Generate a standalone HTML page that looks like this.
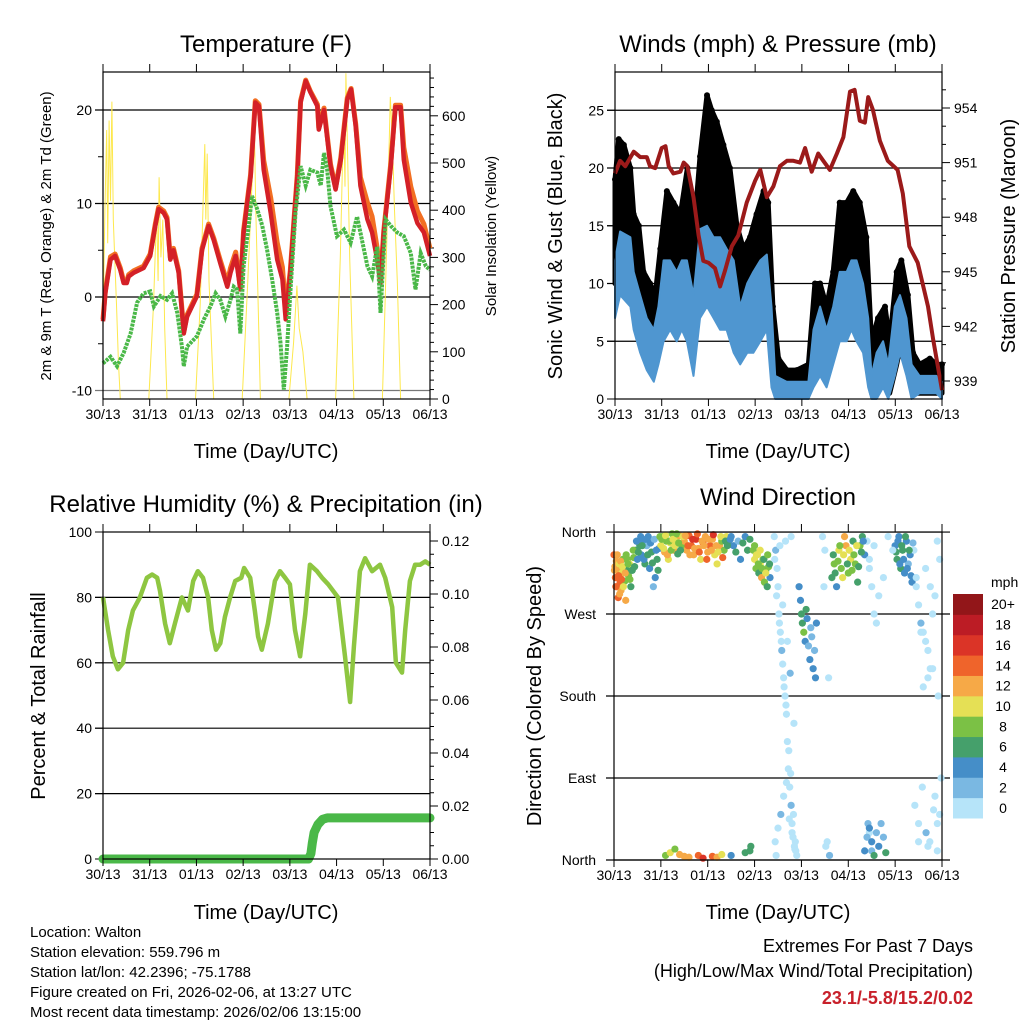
<!DOCTYPE html>
<html><head><meta charset="utf-8"><style>
html,body{margin:0;padding:0;background:#fff;}
svg{display:block;font-family:"Liberation Sans",Arial,sans-serif;}
</style></head><body>
<svg id="chart" width="1024" height="1024" viewBox="0 0 1024 1024" xmlns="http://www.w3.org/2000/svg">
<rect width="1024" height="1024" fill="#fff"/>
<g id="p1"></g>
<g id="p2"></g>
<g id="p3"></g>
<g id="p4"></g>
<g font-size="24" text-anchor="middle" fill="#000">
<text x="266" y="52">Temperature (F)</text>
<text x="778" y="52">Winds (mph) &amp; Pressure (mb)</text>
<text x="266" y="512">Relative Humidity (%) &amp; Precipitation (in)</text>
<text x="778" y="505">Wind Direction</text>
</g>
<g fill="#000" text-anchor="middle">
<text x="266" y="458" font-size="20">Time (Day/UTC)</text>
<text x="778" y="458" font-size="20">Time (Day/UTC)</text>
<text x="266" y="919" font-size="20">Time (Day/UTC)</text>
<text x="778" y="919" font-size="20">Time (Day/UTC)</text>
<text transform="translate(51,236) rotate(-90)" font-size="15">2m &amp; 9m T (Red, Orange) &amp; 2m Td (Green)</text>
<text transform="translate(496,236) rotate(-90)" font-size="15">Solar Insolation (Yellow)</text>
<text transform="translate(562,236) rotate(-90)" font-size="20">Sonic Wind &amp; Gust (Blue, Black)</text>
<text transform="translate(1015,236) rotate(-90)" font-size="20">Station Pressure (Maroon)</text>
<text transform="translate(45,696) rotate(-90)" font-size="20">Percent &amp; Total Rainfall</text>
<text transform="translate(541,696) rotate(-90)" font-size="20">Direction (Colored By Speed)</text>
</g>
<g font-size="15" fill="#000">
<text x="30" y="937">Location: Walton</text>
<text x="30" y="957">Station elevation: 559.796 m</text>
<text x="30" y="977">Station lat/lon: 42.2396; -75.1788</text>
<text x="30" y="997">Figure created on Fri, 2026-02-06, at 13:27 UTC</text>
<text x="30" y="1017">Most recent data timestamp: 2026/02/06 13:15:00</text>
</g>
<g text-anchor="end" font-size="18">
<text x="973" y="952">Extremes For Past 7 Days</text>
<text x="973" y="977">(High/Low/Max Wind/Total Precipitation)</text>
<text x="973" y="1004" fill="#c8202a" font-weight="bold">23.1/-5.8/15.2/0.02</text>
</g>
</svg>
<script>
const dayLabels=["30/13","31/13","01/13","02/13","03/13","04/13","05/13","06/13"];
// Temperature (days, F)
const tTime=[0,0.05,0.16,0.26,0.37,0.44,0.51,0.55,0.66,0.87,1.01,1.12,1.19,1.30,1.37,1.44,1.51,1.62,1.73,1.80,2.01,2.12,2.26,2.37,2.51,2.66,2.73,2.84,2.94,3.01,3.16,3.26,3.34,3.44,3.59,3.73,3.84,3.91,4.01,4.16,4.23,4.34,4.44,4.59,4.62,4.73,4.87,4.98,5.09,5.23,5.31,5.41,5.51,5.66,5.76,5.87,5.94,6.01,6.16,6.26,6.37,6.44,6.59,6.73,6.87,7.0];
const temp2m=[-2.6,0.4,4,4.4,2.9,1.5,1.5,2.2,2.6,3.1,4.4,7.6,9.4,9,8.3,4,5,2.6,-3.9,-2.1,0.1,5,7.6,6.1,3.6,1.1,2.6,4.4,0.8,6.9,12.9,20.8,20.4,13.6,9,4,1.9,-2.4,2.6,12.9,20.8,23.1,21.9,20.4,17.9,20,14,11.5,14.7,21.1,22.2,18.3,11.9,8.3,6.9,4,1.5,6.9,14,20.3,20.3,14.7,10.1,7.9,6.9,4.4];
const temp9m=[-2.4,0.6,4.3,4.6,3.1,1.7,1.7,2.4,2.8,3.3,4.6,7.8,9.6,9.2,8.5,4.2,5.2,2.8,-3.7,-1.9,0.3,5.2,7.8,6.3,3.9,1.5,3.1,4.8,1.0,7.1,13.1,21.0,20.6,14.6,10.6,5.8,3.2,-1.4,2.8,13.1,21.0,23.2,22.0,20.6,18.1,20.2,14.2,11.7,14.9,21.3,22.3,18.5,12.8,10.1,8.6,5.2,1.7,7.1,14.3,20.5,20.5,16.0,11.8,9.2,7.8,5.2];
const tdTime=[0,0.16,0.30,0.44,0.59,0.73,0.87,1.01,1.09,1.23,1.37,1.48,1.59,1.69,1.73,1.80,2.01,2.16,2.30,2.41,2.51,2.62,2.73,2.80,2.87,2.94,3.01,3.12,3.19,3.30,3.41,3.51,3.62,3.73,3.80,3.87,3.94,4.01,4.12,4.23,4.34,4.44,4.59,4.66,4.73,4.80,4.87,5.01,5.16,5.30,5.44,5.51,5.66,5.76,5.87,5.94,6.05,6.16,6.30,6.44,6.59,6.69,6.80,6.91,7.0];
const dewPt=[-7.1,-6.4,-7.4,-6,-3.9,-0.6,0.4,0.6,-1,0.1,-0.3,0.4,-1.7,-5.3,-7.4,-5.3,-4.2,-2.4,-1,0.4,-0.3,-2.1,-0.3,1.1,0.8,-3.9,3.3,7.6,10.8,9.4,7.6,5.1,1.9,-1.7,-4.9,-9.9,-5.3,0.4,9,14,11.9,13.6,13.3,11.9,15.4,13.6,9.7,6.5,7.2,5.8,8.6,6.9,3.3,2.2,5.4,-1.7,8.3,7.6,6.9,6.5,4.7,0.8,4.7,3.3,2.9];
const solarTime=[0,0.04,0.08,0.10,0.13,0.16,0.19,0.22,0.25,0.29,0.33,0.37,0.98,1.08,1.15,1.18,1.20,1.24,1.28,1.32,1.37,1.98,2.08,2.18,2.20,2.23,2.27,2.31,2.37,2.98,3.10,3.20,3.23,3.27,3.31,3.37,3.98,4.08,4.15,4.20,4.28,4.37,4.98,5.08,5.15,5.18,5.20,5.24,5.28,5.37,5.98,6.08,6.15,6.19,6.24,6.30,6.37,7.0];
const solar=[150,400,570,330,590,420,630,380,300,200,80,0,0,200,400,250,470,300,380,150,0,0,200,540,380,520,250,150,0,0,250,480,630,400,250,0,0,120,240,150,100,0,0,300,600,450,690,500,300,0,0,350,640,560,400,250,0,0];
// Winds (mph) & pressure (mb)
const presTime=[0,0.11,0.22,0.40,0.54,0.68,0.75,0.86,1.00,1.08,1.15,1.25,1.40,1.47,1.55,1.68,1.79,1.89,2.00,2.14,2.25,2.36,2.50,2.64,2.82,3.00,3.11,3.25,3.39,3.53,3.68,3.82,3.96,4.07,4.21,4.35,4.46,4.60,4.75,4.89,5.03,5.13,5.24,5.35,5.42,5.52,5.67,5.84,6.05,6.16,6.30,6.48,6.70,6.81,7.0];
const pressure=[950.4,951.1,950.8,951.6,951.3,951.3,950.8,950.7,951.8,951.9,950.8,950.4,950.5,951,950.8,949.1,947,945.6,945.5,945.2,944.2,945.1,946.4,947,948.8,950,950.6,949.1,949.7,950.8,951.1,951.1,951,951.8,950.5,951.5,951.1,950.6,951.5,952.4,954.9,955,953.3,953.2,954.6,953.9,952.2,951.1,950.6,949.3,946.4,945.5,943.1,941.3,938.5];
const windTime=[0,0.11,0.33,0.40,0.54,0.68,0.83,0.93,1.04,1.18,1.32,1.43,1.54,1.68,1.82,1.97,2.11,2.25,2.39,2.54,2.68,2.83,2.96,3.11,3.25,3.35,3.43,3.67,3.96,4.14,4.25,4.39,4.53,4.67,4.81,4.96,5.06,5.17,5.31,5.42,5.49,5.60,5.74,5.85,5.99,6.10,6.24,6.35,6.52,6.74,6.88,7.0];
const windHi=[12,14.5,14,11,9,7,6,8,12,12,11,12,12,9,14.7,15,14,14,13,12,8,10,11,12,12.5,8,2,1.5,1.5,1.5,6,8,6,8,11,11,12,12,10,7,2,4,5,3,8,9,7,3,2,2,2,1.5];
const windLo=[7,9,8,6,4,2.5,1.5,3,5,6,5,6,5,2,7,8,7,6,6,4,3,4,4,5,6,1,0,0,0,0,1,2,1,3,5,5,6,5,4,1,0,0,1,0,2,4,2,0,0.5,0.5,0.5,0];
const gustTime=[0,0.08,0.19,0.33,0.40,0.51,0.61,0.75,0.86,0.97,1.11,1.25,1.40,1.55,1.68,1.82,1.97,2.07,2.18,2.32,2.46,2.61,2.75,2.89,3.03,3.18,3.28,3.38,3.50,3.68,3.89,4.14,4.28,4.39,4.53,4.67,4.81,4.96,5.10,5.24,5.38,5.49,5.63,5.78,5.88,6.03,6.13,6.27,6.38,6.52,6.74,6.88,7.0];
const gustHi=[19,22.5,22,20,16,15,11,10,9,13,18,17,16,20,14,21,26.3,25,24,22,20,15,13,14,16,18,17,8,3.5,2.5,2.5,3,10,10,8,11,17,17,18,17,14,5,7,8,5,11,12,9,4,3,3.5,3,3];
const gustLo=[10,13,14,12,9,7,5,4,5,6,9,9,8,8,5,10,13,13,12,11,8,6,5,6,7,8,7,2,0.5,0.5,0.5,0.5,2,3,2,4,7,7,8,7,5,0.5,1,1,0.5,3,5,3,0.5,0.5,0.5,0.5,0.5];
// Relative humidity & precipitation
const rhTime=[0,0.11,0.21,0.32,0.43,0.54,0.64,0.79,0.94,1.05,1.16,1.22,1.33,1.43,1.54,1.69,1.82,1.93,2.03,2.14,2.25,2.33,2.42,2.51,2.61,2.72,2.83,2.96,3.02,3.15,3.25,3.32,3.40,3.53,3.68,3.79,3.90,4.00,4.11,4.22,4.33,4.43,4.58,4.69,4.82,5.03,5.18,5.29,5.37,5.50,5.61,5.76,5.93,6.04,6.19,6.27,6.40,6.47,6.57,6.68,6.79,6.90,7.0];
const rh=[80,70,62,58,60,70,76,80,86,87,86,82,72,66,72,80,76,85,88,86,80,70,64,66,74,80,85,86,89,86,76,68,64,72,85,88,86,84,70,62,75,90,88,86,84,80,62,48,65,88,92,88,90,86,77,60,57,70,85,90,90,91,90];
const precTime=[0,4.4,4.45,4.48,4.52,4.6,4.7,4.8,5.0,6.0,7.0];
const precip=[0,0,0.002,0.006,0.01,0.013,0.015,0.0155,0.0155,0.0155,0.0155];
// Wind direction scatter (days, degrees, mph)
const dirTime=[0.00,0.02,0.03,0.05,0.06,0.08,0.09,0.11,0.13,0.15,0.17,0.19,0.21,0.23,0.25,0.27,0.29,0.31,0.33,0.36,0.39,0.42,
0.46,0.5,0.55,0.58,0.62,0.66,0.7,0.73,0.76,0.8,0.84,0.88,0.92,0.96,
1.0,1.04,1.08,1.12,1.16,1.2,1.24,1.28,1.32,1.36,1.4,1.45,
1.5,1.55,1.6,1.65,1.7,1.75,1.8,1.85,1.9,1.95,2.0,2.05,2.1,2.15,2.2,2.25,2.3,2.35,2.4,2.45,
2.5,2.55,2.6,2.65,2.7,2.75,2.8,2.85,2.9,
2.97,3.0,3.03,3.06,3.09,3.12,3.15,3.18,3.21,3.24,3.27,3.3,3.33,
3.42,3.45,3.48,3.5,3.52,3.55,3.58,3.6,3.62,3.65,3.68,3.7,3.72,3.75,3.78,3.8,3.82,3.85,3.88,3.9,3.44,3.5,3.56,3.62,3.68,3.74,3.8,3.86,3.6,3.7,3.76,3.84,
3.95,3.98,4.0,4.02,4.05,4.08,4.1,4.12,4.15,4.18,4.2,4.22,4.25,4.28,4.3,4.32,
4.65,4.7,4.75,4.8,4.85,4.9,4.95,5.0,5.05,5.1,5.15,5.2,5.25,5.3,5.35,
4.45,4.5,4.55,4.6,5.4,5.45,5.5,5.55,5.6,5.5,5.45,5.42,4.48,4.52,4.58,
5.35,5.4,5.45,5.5,5.55,5.6,5.65,5.7,5.75,5.8,
6.0,6.04,6.08,6.12,6.16,6.2,6.24,6.28,6.32,6.36,
6.4,6.45,6.5,6.55,6.6,6.65,6.7,6.75,6.8,6.85,6.9,6.95,6.42,6.5,6.58,6.66,6.74,6.82,6.9,6.98,6.6,6.7,6.8,6.92,
1.1,1.2,1.3,1.4,1.5,1.6,1.8,1.9,2.1,2.2,2.3,2.5,2.8,2.9,2.92,
0.01,0.04,0.07,0.1,0.12,0.14,0.16,0.18,0.2,0.24,0.26,0.3,0.34,0.38,0.41,0.44,
0.48,0.52,0.57,0.6,0.64,0.68,0.72,0.78,0.82,0.86,0.9,0.94,0.98,
1.02,1.06,1.1,1.14,1.18,1.22,1.26,1.3,1.34,1.38,1.42,1.47,
1.52,1.58,1.62,1.68,1.72,1.78,1.82,1.88,1.92,1.98,2.02,2.08,2.12,2.18,2.22,2.28,2.32,2.38,2.42,2.48,
3.0,3.04,3.08,3.12,3.16,3.2,3.24,3.28,3.32,
3.43,3.47,3.53,3.57,3.63,3.67,3.73,3.77,3.83,3.87,3.46,3.54,3.66,3.78,
4.68,4.72,4.78,4.82,4.88,4.92,4.98,5.02,5.08,5.12,5.18,5.22,5.28,5.32,
6.02,6.06,6.1,6.14,6.18,6.22,6.26,6.3,6.34,6.38,
5.45,5.55,5.65,5.75,5.85,5.95,6.45,6.55,6.65,6.75,6.85,6.95,6.5,6.7,6.9];
const dirDeg=[335,322,310,328,300,318,288,325,305,296,315,330,320,306,285,318,330,312,325,300,318,332,
340,330,345,335,350,325,345,355,320,338,300,310,330,342,
345,355,338,350,330,348,358,340,352,336,356,345,
350,340,356,345,335,352,342,330,348,355,338,345,352,335,325,345,350,340,355,346,
355,345,338,350,330,348,355,340,352,
340,330,320,335,315,325,310,330,305,318,300,322,310,
355,340,320,300,270,250,230,215,200,180,160,130,100,80,60,40,25,15,10,5,20,35,50,70,85,45,30,12,280,240,205,150,
300,285,270,260,250,240,275,265,235,220,255,245,210,230,200,260,
310,325,300,340,320,335,345,315,330,350,325,305,345,355,335,
355,340,20,5,350,330,300,270,260,10,30,40,300,15,200,
10,25,35,20,5,30,15,40,25,8,
345,330,355,320,340,315,350,325,335,305,
340,300,280,260,250,320,230,210,270,290,350,330,60,40,80,30,20,55,10,90,190,200,210,180,
5,8,12,6,4,3,5,2,4,3,6,5,8,10,15,
318,300,335,312,292,328,308,322,300,315,335,325,308,318,340,322,
350,338,355,345,330,352,335,348,326,352,340,318,355,
352,342,356,335,350,340,352,345,358,348,340,355,
356,345,335,352,342,358,338,350,345,330,352,340,357,345,338,355,332,350,345,352,
345,335,325,340,320,330,315,335,325,
330,290,260,240,190,170,120,95,50,20,5,345,350,355,
335,315,328,345,310,355,325,340,318,335,345,322,338,350,
338,350,325,345,330,355,320,340,312,348,
320,345,290,310,355,340,310,250,240,300,70,50,20,15,40];
const dirSpeed=[14,13,15,12,14,13,15,11,14,12,10,9,11,8,13,7,9,8,10,7,6,8,
6,5,7,4,5,6,3,4,5,6,2,4,7,5,
10,9,12,8,10,11,8,13,10,7,12,9,
13,12,14,15,12,16,13,11,14,12,13,15,12,10,11,13,9,8,10,7,
5,4,6,3,5,7,4,6,7,
8,10,9,11,7,10,12,8,9,7,6,8,5,
1,2,0,1,1,0,2,1,1,0,1,1,0,1,2,1,0,1,1,0,1,0,2,1,0,1,1,0,1,0,2,1,
4,5,6,6,8,5,6,4,3,4,3,2,4,3,4,5,
6,8,5,10,9,11,12,8,10,7,9,6,8,6,5,
1,0,1,2,1,0,1,0,1,2,1,3,0,1,0,
4,3,4,5,6,3,4,2,3,6,
5,6,4,7,6,5,4,3,5,4,
1,0,1,2,1,0,1,0,1,1,0,1,1,0,1,2,0,1,0,1,0,1,1,0,
8,10,9,12,13,12,14,16,15,12,11,4,6,7,6,
13,14,12,15,13,12,14,11,10,12,9,8,9,7,8,6,
5,6,4,7,5,4,6,5,7,3,5,6,8,
9,11,10,12,8,9,11,10,9,8,7,10,
12,14,13,16,12,14,15,13,12,14,12,13,16,12,11,10,14,7,6,5,
9,10,8,11,9,7,10,8,6,
1,0,1,1,0,1,1,0,1,0,1,1,0,1,
7,6,9,8,10,12,7,11,9,8,10,6,7,5,
6,4,5,7,4,6,5,6,4,3,
1,0,1,0,1,1,1,0,1,0,1,1,0,1,0];
const speedColors=["#b6e4f9","#7ab8e2","#458ec8","#45a06b","#7bc145","#e5e055","#f6a947","#ef642b","#db3427","#bc1c25","#921619"];
const speedLabels=["0","2","4","6","8","10","12","14","16","18","20+"];
const t1Left=[20,10,0,-10], t1Right=[0,100,200,300,400,500,600];
const t2Left=[0,5,10,15,20,25], t2Right=[939,942,945,948,951,954];
const t3Left=[0,20,40,60,80,100], t3Right=[0,0.02,0.04,0.06,0.08,0.1,0.12];
const t4Left=["North","East","South","West","North"], t4Vals=[0,90,180,270,360];

const NS="http://www.w3.org/2000/svg";
function mk(parent,tag,attrs,name,text){const e=document.createElementNS(NS,tag);for(const k in attrs)e.setAttribute(k,attrs[k]);


if(text!==undefined)e.textContent=text;parent.appendChild(e);return e;}
function path(xs,ys,fx,fy){return xs.map((v,i)=>(i?'L':'M')+fx(v).toFixed(1)+','+fy(ys[i]).toFixed(1)).join('');}
function band(xs,hi,lo,fx,fy){let d=xs.map((v,i)=>(i?'L':'M')+fx(v).toFixed(1)+','+fy(hi[i]).toFixed(1)).join('');
for(let i=xs.length-1;i>=0;i--)d+='L'+fx(xs[i]).toFixed(1)+','+fy(lo[i]).toFixed(1);return d+'Z';}
function frame(g,L,R,T,B,name){mk(g,'rect',{x:L,y:T,width:R-L,height:B-T,fill:'none',stroke:'#000','stroke-width':1.2},name);}
function xaxis(g,L,R,T,B,fx,pfx){for(let i=0;i<8;i++){const x=fx(i);
mk(g,'line',{x1:x,y1:B,x2:x,y2:B+7,stroke:'#000'},pfx+'-x-tick');
mk(g,'line',{x1:x,y1:T,x2:x,y2:T-8,stroke:'#000'},pfx+'-x-top-tick');
mk(g,'text',{x:x,y:B+20,'font-size':14,'text-anchor':'middle'},pfx+'-x-tick-label',dayLabels[i]);}}

// Panel 1
(function(){const g=document.getElementById('p1');const L=103,R=430,T=72,B=399;
const fx=d=>L+d*(R-L)/7, fy=v=>297-v*9.35, fs=v=>399-v*0.472;
t1Left.forEach(v=>{mk(g,'line',{x1:L-8,y1:fy(v),x2:R,y2:fy(v),stroke:v===-10?'#777':'#000','stroke-width':1.2},'p1-gridline');
mk(g,'text',{x:L-11,y:fy(v)+5,'font-size':14,'text-anchor':'end'},'p1-y-tick-label',String(v));});
[15,5,-5].forEach(v=>mk(g,'line',{x1:L-5,y1:fy(v),x2:L,y2:fy(v),stroke:'#000'},'p1-y-minor-tick'));
for(let v=0;v<=680;v+=20){const maj=v%100===0;mk(g,'line',{x1:R,y1:fs(v),x2:R+(maj?8:4),y2:fs(v),stroke:'#000'},'p1-y2-tick');}
t1Right.forEach(v=>mk(g,'text',{x:R+12,y:fs(v)+5,'font-size':14},'p1-y2-tick-label',String(v)));
mk(g,'path',{d:path(solarTime,solar,fx,fs),fill:'none',stroke:'#fde84d','stroke-width':1},'solar-line');
mk(g,'path',{d:path(tTime,temp9m,fx,fy),fill:'none',stroke:'#f26f22','stroke-width':5,'stroke-linejoin':'round'},'temp-9m-line');
mk(g,'path',{d:path(tTime,temp2m,fx,fy),fill:'none',stroke:'#d42027','stroke-width':4.5,'stroke-linejoin':'round'},'temp-2m-line');
mk(g,'path',{d:path(tdTime,dewPt,fx,fy),fill:'none',stroke:'#4ab848','stroke-width':4,'stroke-dasharray':'3 1'},'dewpoint-line');
frame(g,L,R,T,B,'p1-frame');xaxis(g,L,R,T,B,fx,'p1');})();

// Panel 2
(function(){const g=document.getElementById('p2');const L=615,R=942,T=72,B=399;
const fx=d=>L+d*(R-L)/7, fy=v=>399-v*11.55, fp=p=>381-(p-939)*18.2;
t2Left.forEach(v=>{if(v>0)mk(g,'line',{x1:L-8,y1:fy(v),x2:R,y2:fy(v),stroke:'#000','stroke-width':1.2},'p2-gridline');
mk(g,'line',{x1:L-8,y1:fy(v),x2:L,y2:fy(v),stroke:'#000'},'p2-y-tick');
mk(g,'text',{x:L-11,y:fy(v)+5,'font-size':14,'text-anchor':'end'},'p2-y-tick-label',String(v));});
for(let p=938;p<=956;p++){if(fp(p)<T||fp(p)>B)continue;const maj=(p-939)%3===0;mk(g,'line',{x1:R,y1:fp(p),x2:R+(maj?8:4),y2:fp(p),stroke:'#000'},'p2-y2-tick');}
t2Right.forEach(v=>mk(g,'text',{x:R+12,y:fp(v)+5,'font-size':14},'p2-y2-tick-label',String(v)));
mk(g,'path',{d:band(gustTime,gustHi,gustLo,fx,fy),fill:'#000',stroke:'#000','stroke-width':5,'stroke-linejoin':'round'},'gust-band');
gustTime.forEach((t,i)=>mk(g,'circle',{cx:fx(t),cy:fy(gustHi[i]),r:3,fill:'#000'},'gust-point'));
mk(g,'path',{d:band(windTime,windHi,windLo,fx,fy),fill:'#4f96d0',stroke:'#4f96d0','stroke-width':2,'stroke-linejoin':'round'},'wind-band');
mk(g,'path',{d:path(presTime,pressure,fx,fp),fill:'none',stroke:'#9b1a1a','stroke-width':4,'stroke-linejoin':'round'},'pressure-line');
frame(g,L,R,T,B,'p2-frame');xaxis(g,L,R,T,B,fx,'p2');})();

// Panel 3
(function(){const g=document.getElementById('p3');const L=103,R=430,T=532,B=859;
const fx=d=>L+d*(R-L)/7, fy=v=>859-v*3.27, fr=v=>859-v*2650;
t3Left.forEach(v=>{if(v>0&&v<100)mk(g,'line',{x1:L-8,y1:fy(v),x2:R,y2:fy(v),stroke:'#000','stroke-width':1.2},'p3-gridline');
mk(g,'line',{x1:L-8,y1:fy(v),x2:L,y2:fy(v),stroke:'#000'},'p3-y-tick');
mk(g,'text',{x:L-11,y:fy(v)+5,'font-size':14,'text-anchor':'end'},'p3-y-tick-label',String(v));});
for(let v=0;v<=0.121;v+=0.005){const maj=Math.round(v*1000)%20===0;mk(g,'line',{x1:R,y1:fr(v),x2:R+(maj?8:4),y2:fr(v),stroke:'#000'},'p3-y2-tick');}
t3Right.forEach(v=>mk(g,'text',{x:R+12,y:fr(v)+5,'font-size':14},'p3-y2-tick-label',v.toFixed(2)));
mk(g,'path',{d:path(precTime,precip,fx,fr),fill:'none',stroke:'#4ab848','stroke-width':9,'stroke-linejoin':'round','stroke-linecap':'round'},'precip-line');
mk(g,'path',{d:path(rhTime,rh,fx,fy),fill:'none',stroke:'#8ec641','stroke-width':4.5,'stroke-linejoin':'round'},'rh-line');
frame(g,L,R,T,B,'p3-frame');xaxis(g,L,R,T,B,fx,'p3');})();

// Panel 4
(function(){const g=document.getElementById('p4');const L=614,R=942,T=532,B=860;
const fx=d=>L+d*(R-L)/7, fy=v=>860-v*0.911;
t4Vals.forEach((v,i)=>{mk(g,'line',{x1:L-8,y1:fy(v),x2:R+8,y2:fy(v),stroke:'#000','stroke-width':1.2},'p4-gridline');
mk(g,'text',{x:L-18,y:fy(v)+5,'font-size':14,'text-anchor':'end'},'p4-y-tick-label',t4Left[i]);});
dirTime.forEach((t,i)=>{const c=Math.min(10,Math.floor(dirSpeed[i]/2));
mk(g,'circle',{cx:fx(t),cy:fy(dirDeg[i]),r:3.6,fill:speedColors[c]},'direction-point');});
frame(g,L,R,T,B,'p4-frame');xaxis(g,L,R,T,B,fx,'p4');
const cb=document.createElementNS(NS,'g');g.appendChild(cb);
const h=224/11;
mk(cb,'text',{x:991,y:587,'font-size':14},'colorbar-unit-label','mph');
speedColors.forEach((c,i)=>{const y=818-(i+1)*h;
mk(cb,'rect',{x:953,y:y,width:30,height:h+0.5,fill:c},'colorbar-box');
mk(cb,'text',{x:1003,y:y+h/2+5,'font-size':14,'text-anchor':'middle'},'colorbar-label',speedLabels[i]);});})();
</script>
</body></html>
